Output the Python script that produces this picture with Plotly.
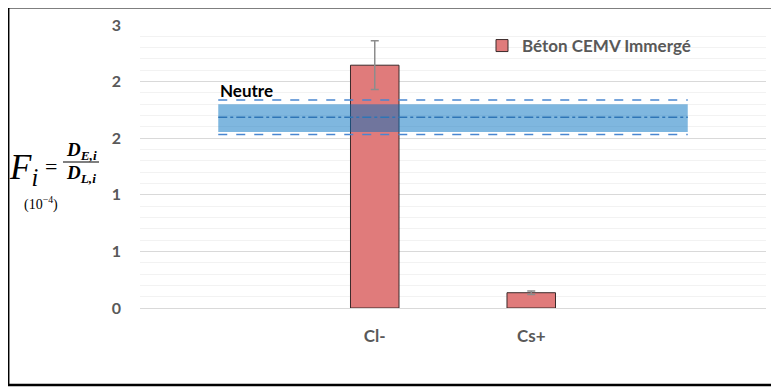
import plotly.graph_objects as go

# ---- data ----
categories = ["Cl-", "Cs+"]
cat_pos = [1, 2]
values = [2.145, 0.135]
errors = [0.215, 0.015]
series_name = "Béton CEMV Immergé"

neutre_x = [0, 3]
neutre_mid = [1.685, 1.685]
neutre_band_hi = [1.80, 1.80]
neutre_band_lo = [1.555, 1.555]
neutre_dash_hi = [1.837, 1.837]
neutre_dash_lo = [1.533, 1.533]

y_tickvals = [0, 0.5, 1, 1.5, 2, 2.5]
y_ticktext = ["0", "1", "1", "2", "2", "3"]

# ---- layout geometry (page has an 8px body offset) ----
OFF = 8
W, H = 779, 388
L = 140 - OFF
T = 25 - OFF
B = H - (308 - OFF)
R = W - (766 - OFF)
PW, PH = W - L - R, H - T - B


def px(x):
    return (x - OFF - L) / PW


def py(y):
    return (H - B - (y - OFF)) / PH


GRAY = "#595959"
FONT = "Lato"

fig = go.Figure()

fig.add_trace(go.Bar(
    x=cat_pos, y=values, name=series_name, width=0.31,
    marker=dict(color="#E07B7B", line=dict(color="#3a2a2a", width=1)),
    error_y=dict(type="data", array=errors, visible=True, color="#8c8c8c", thickness=1.5, width=4),
    showlegend=True,
))

# neutral band (semi-transparent fill)
fig.add_trace(go.Scatter(x=neutre_x, y=neutre_band_lo, mode="lines", line=dict(width=0),
                         showlegend=False, hoverinfo="skip"))
fig.add_trace(go.Scatter(x=neutre_x, y=neutre_band_hi, mode="lines", line=dict(width=0),
                         fill="tonexty", fillcolor="rgba(0,112,192,0.5)",
                         showlegend=False, hoverinfo="skip"))
fig.add_trace(go.Scatter(x=neutre_x, y=neutre_mid, mode="lines",
                         line=dict(color="#2E75B6", width=1.5, dash="dashdot"),
                         showlegend=False, hoverinfo="skip"))
for yy in (neutre_dash_hi, neutre_dash_lo):
    fig.add_trace(go.Scatter(x=neutre_x, y=yy, mode="lines",
                             line=dict(color="#4A86D0", width=1.5, dash="dash"),
                             showlegend=False, hoverinfo="skip"))

annotations = [
    dict(x=0, y=1.835, xref="x", yref="y", text="<b>Neutre</b>", showarrow=False,
         xanchor="left", yanchor="bottom", yshift=-3,
         font=dict(family=FONT, size=17, color="black")),
    # formula
    dict(x=px(7), y=py(169), xref="paper", yref="paper", text="<i>F</i><sub><i>i</i></sub>",
         showarrow=False, xanchor="left", yanchor="middle",
         font=dict(family="Liberation Serif", size=35, color="black")),
    dict(x=px(43), y=py(166), xref="paper", yref="paper", text="=", showarrow=False,
         xanchor="left", yanchor="middle", font=dict(family="Liberation Serif", size=22, color="black")),
    dict(x=px(81), y=py(151), xref="paper", yref="paper",
         text="<b><i>D</i></b><sub><b><i>E,i</i></b></sub>", showarrow=False,
         xanchor="center", yanchor="middle", font=dict(family="Liberation Serif", size=19, color="black")),
    dict(x=px(81), y=py(174), xref="paper", yref="paper",
         text="<b><i>D</i></b><sub><b><i>L,i</i></b></sub>", showarrow=False,
         xanchor="center", yanchor="middle", font=dict(family="Liberation Serif", size=19, color="black")),
    dict(x=px(41), y=py(203), xref="paper", yref="paper", text="(10<sup>−4</sup>)", showarrow=False,
         xanchor="center", yanchor="middle", font=dict(family="Liberation Serif", size=14, color="black")),
]

shapes = [
    # fraction bar
    dict(type="line", xref="paper", yref="paper", x0=px(63), x1=px(99), y0=py(162), y1=py(162),
         line=dict(color="black", width=1.2)),
    # outer border
    dict(type="rect", xref="paper", yref="paper", x0=px(8.2), x1=px(790), y0=py(7.3), y1=py(385),
         line=dict(color="black", width=2.5), layer="above"),
]

fig.update_layout(
    width=W, height=H,
    margin=dict(l=L, r=R, t=T, b=B, autoexpand=False),
    paper_bgcolor="white", plot_bgcolor="white",
    font=dict(family=FONT, color=GRAY),
    barmode="overlay",
    showlegend=True,
    legend=dict(x=px(482), y=py(46), xanchor="left", yanchor="middle",
                bgcolor="rgba(0,0,0,0)", font=dict(family=FONT, size=17, color=GRAY, weight="bold"),
                itemwidth=30),
    xaxis=dict(range=[-0.5, 3.5], tickvals=cat_pos, ticktext=["<b>%s</b>" % c for c in categories],
               showgrid=False, zeroline=False, showline=False, ticks="", automargin=False,
               tickfont=dict(family=FONT, size=17, color=GRAY), ticklabelstandoff=16),
    yaxis=dict(range=[0, 2.5], tickvals=y_tickvals, ticktext=["<b>%s</b>" % t for t in y_ticktext],
               showgrid=True, gridcolor="#d9d9d9", gridwidth=1, automargin=False,
               zeroline=True, zerolinecolor="#d9d9d9", zerolinewidth=1,
               showline=False, ticks="", ticklabelstandoff=18,
               tickfont=dict(family=FONT, size=16, color=GRAY),
               minor=dict(dtick=0.1, showgrid=True, gridcolor="#f2f2f2", gridwidth=1)),
    annotations=annotations,
    shapes=shapes,
)

fig.write_html("out.html")
